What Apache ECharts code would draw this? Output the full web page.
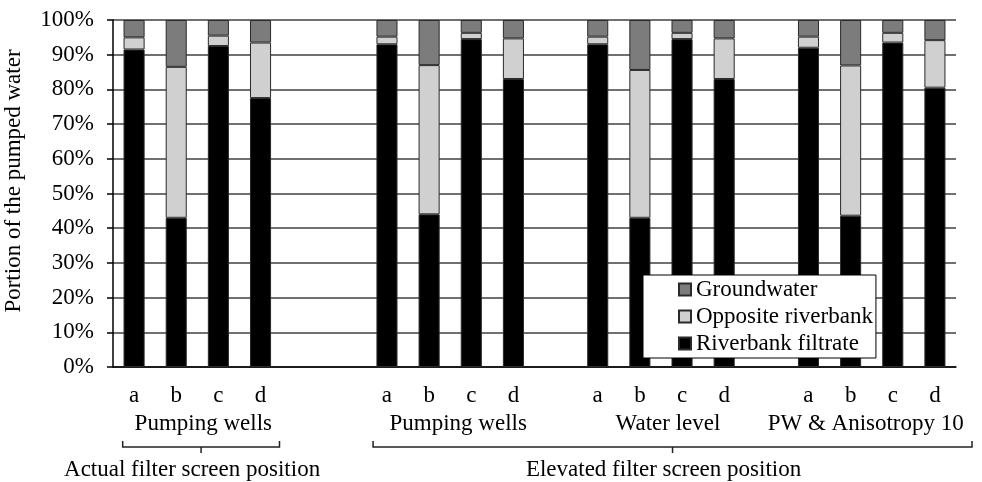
<!DOCTYPE html>
<html>
<head>
<meta charset="utf-8">
<script src="https://cdn.jsdelivr.net/npm/echarts@6/dist/echarts.min.js"></script>
<style>html,body{margin:0;padding:0;background:#fff}#c{width:982px;height:482px}</style>
</head>
<body>
<div id="c"></div>
<script>
const categories = ['a','b','c','d','','','a','b','c','d','','a','b','c','d','','a','b','c','d'];
const riverbankFiltrate = [91.5, 43, 92.5, 77.5, null, null, 93, 44, 94.5, 83, null, 93, 43, 94.5, 83, null, 92, 43.6, 93.5, 80.5];
const oppositeRiverbank = [3.5, 43.5, 3, 16, null, null, 2.2, 43, 1.8, 11.7, null, 2.2, 42.6, 1.8, 11.7, null, 3.2, 43.3, 2.8, 13.7];
const groundwater = [5, 13.5, 4.5, 6.5, null, null, 4.8, 13, 3.7, 5.3, null, 4.8, 14.4, 3.7, 5.3, null, 4.8, 13.1, 3.7, 5.8];
const yTicks = [0,10,20,30,40,50,60,70,80,90,100];
const groupLabels = ['Pumping wells','Pumping wells','Water level','PW & Anisotropy 10'];
const groupRanges = [[0,3],[6,9],[11,14],[16,19]];
const superLabels = ['Actual filter screen position','Elevated filter screen position'];
const superRanges = [[0,3],[6,19]];

const FONT = "'Liberation Serif','Times New Roman',serif";
const FS = 23;
const chart = echarts.init(document.getElementById('c'));
const barStyle = (c) => ({color: c, borderColor: '#2a2a2a', borderWidth: 1});
chart.setOption({
  animation: false,
  backgroundColor: '#fff',
  grid: {left: 113, right: 26, top: 20, bottom: 115},
  legend: {
    orient: 'vertical', left: 643, top: 275, icon: 'rect',
    data: ['Groundwater','Opposite riverbank','Riverbank filtrate'],
    backgroundColor: '#fff', borderColor: '#000', borderWidth: 1,
    padding: [3, 3, 3, 35], itemGap: 4, itemWidth: 12, itemHeight: 12,
    textStyle: {fontFamily: FONT, fontSize: FS, color: '#000'}
  },
  xAxis: {
    type: 'category', data: categories, boundaryGap: true,
    axisLine: {lineStyle: {color: '#000', width: 1.5}},
    axisTick: {alignWithLabel: true, length: 6, lineStyle: {color: '#000', width: 1.5}},
    axisLabel: {interval: 0, margin: 17, fontFamily: FONT, fontSize: FS, color: '#000'}
  },
  yAxis: {
    type: 'value', min: 0, max: 100, interval: 10,
    axisLine: {show: true, lineStyle: {color: '#000', width: 1.5}},
    axisTick: {show: true, length: 6, lineStyle: {color: '#000', width: 1.5}},
    axisLabel: {margin: 19, fontFamily: FONT, fontSize: FS, color: '#000',
      formatter: v => yTicks.includes(v) ? v + '%' : ''},
    splitLine: {show: true, lineStyle: {color: '#404040', width: 1.5}}
  },
  series: [
    {name: 'Riverbank filtrate', type: 'bar', stack: 's', barWidth: '50%', data: riverbankFiltrate, itemStyle: barStyle('#000')},
    {name: 'Opposite riverbank', type: 'bar', stack: 's', barWidth: '50%', data: oppositeRiverbank, itemStyle: barStyle('#d0d0d0')},
    {name: 'Groundwater', type: 'bar', stack: 's', barWidth: '50%', data: groundwater, itemStyle: barStyle('#7c7c7c')}
  ]
});

const px = (i) => chart.convertToPixel({xAxisIndex: 0}, i);
const step = px(1) - px(0);
const g = [];
g.push({type: 'text', rotation: Math.PI/2, x: 14, y: 181,
  style: {text: 'Portion of the pumped water', fontFamily: FONT, fontSize: FS, fill: '#000', align: 'center', verticalAlign: 'middle'}});
const groupShift = [6, 8, 7, -6];
groupRanges.forEach((r, k) => {
  const cx = (px(r[0]) + px(r[1])) / 2 + groupShift[k];
  g.push({type: 'text', x: cx, y: 424, style: {text: groupLabels[k], fontFamily: FONT, fontSize: FS, fill: '#000', align: 'center', verticalAlign: 'middle'}});
});
const bracketOffsets = [[-0.27, 0.45], [-0.33, 0.88]];
superRanges.forEach((r, k) => {
  const x1 = px(r[0]) + bracketOffsets[k][0] * step;
  const x2 = px(r[1]) + bracketOffsets[k][1] * step;
  const xm = (x1 + x2) / 2;
  g.push({type: 'polyline', shape: {points: [[x1, 441], [x1, 447], [x2, 447], [x2, 441]]}, style: {stroke: '#222', lineWidth: 1.5, fill: null}});
  g.push({type: 'line', shape: {x1: xm, y1: 447, x2: xm, y2: 453}, style: {stroke: '#222', lineWidth: 1.5}});
  g.push({type: 'text', x: xm - 9, y: 470, style: {text: superLabels[k], fontFamily: FONT, fontSize: FS, fill: '#000', align: 'center', verticalAlign: 'middle'}});
});
chart.setOption({graphic: g});
</script>
</body>
</html>
